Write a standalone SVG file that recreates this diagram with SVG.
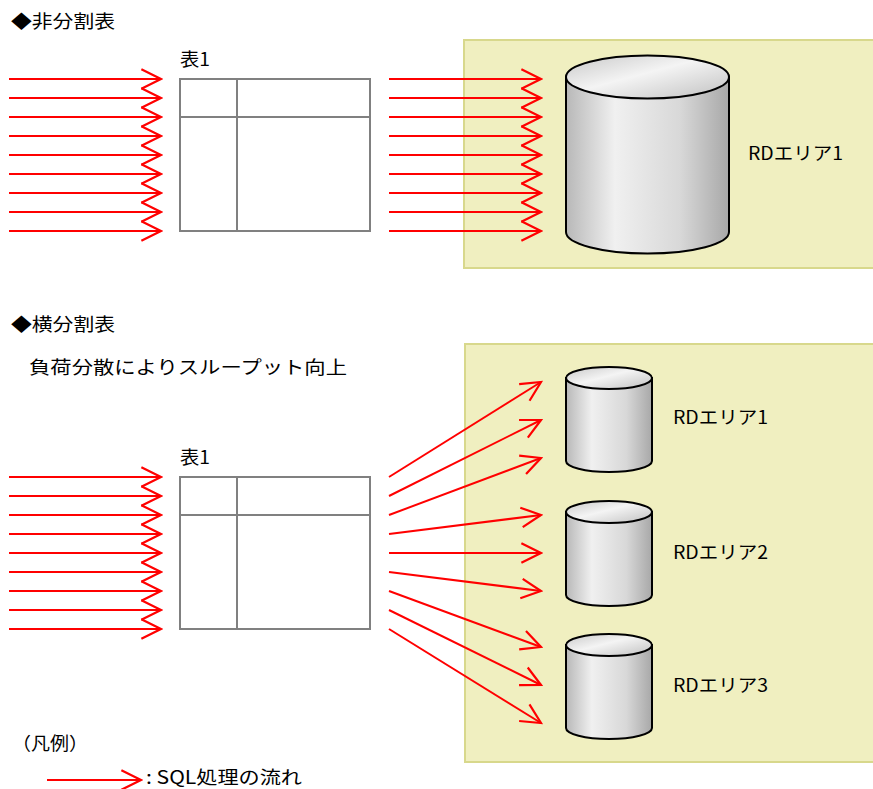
<svg xmlns="http://www.w3.org/2000/svg" width="873" height="789" viewBox="0 0 873 789">
<style>
.t{font-family:"Noto Sans CJK JP","Liberation Sans",sans-serif;font-size:18px;fill:#000}
.area{fill:#f0efc0;stroke:#d8d88c;stroke-width:2}
.tbl{fill:#fff;stroke:#808080;stroke-width:2}
.grid{stroke:#808080;stroke-width:2;fill:none}
.arr{stroke:#ff0000;stroke-width:2;fill:none;marker-end:url(#ah)}
.cylb{fill:url(#gBody);stroke:#000;stroke-width:2}
.cylt{fill:url(#gTop);stroke:#000;stroke-width:2}
</style>
<defs>
<marker id="ah" markerUnits="userSpaceOnUse" markerWidth="24" markerHeight="24" viewBox="-20 -11 22 22" refX="0" refY="0" orient="auto">
<path d="M-18,-9 L0,0 L-18,9" fill="none" stroke="#ff0000" stroke-width="2"/>
</marker>
<linearGradient id="gBody" x1="0" y1="0" x2="1" y2="0">
<stop offset="0" stop-color="#b8b8b8"/>
<stop offset="0.3" stop-color="#f0f0f0"/>
<stop offset="0.7" stop-color="#d8d8d8"/>
<stop offset="1" stop-color="#a8a8a8"/>
</linearGradient>
<linearGradient id="gTop" x1="0" y1="0" x2="1" y2="1">
<stop offset="0" stop-color="#c8c8c8"/>
<stop offset="0.45" stop-color="#f4f4f4"/>
<stop offset="1" stop-color="#c0c0c0"/>
</linearGradient>
</defs>

<g id="title1"><text class="t" x="11" y="28" textLength="104" lengthAdjust="spacingAndGlyphs">◆非分割表</text></g>
<g id="title2"><text class="t" x="11" y="331" textLength="104" lengthAdjust="spacingAndGlyphs">◆横分割表</text></g>
<g id="note"><text class="t" x="29" y="374" textLength="318" lengthAdjust="spacingAndGlyphs">負荷分散によりスループット向上</text></g>

<g id="area1">
<rect class="area" x="464" y="40" width="420" height="228"/>
</g>
<g id="area2">
<rect class="area" x="465" y="344" width="420" height="418"/>
</g>

<g id="table1">
<text class="t" x="180" y="66" textLength="30" lengthAdjust="spacingAndGlyphs">表1</text>
<rect class="tbl" x="180" y="79" width="190" height="152"/>
<line class="grid" x1="180" y1="117" x2="370" y2="117"/>
<line class="grid" x1="237" y1="79" x2="237" y2="231"/>
</g>
<g id="table2">
<text class="t" x="180" y="464" textLength="30" lengthAdjust="spacingAndGlyphs">表1</text>
<rect class="tbl" x="180" y="477" width="190" height="152"/>
<line class="grid" x1="180" y1="515" x2="370" y2="515"/>
<line class="grid" x1="237" y1="477" x2="237" y2="629"/>
</g>

<g id="rd-top">
<path class="cylb" d="M566,77 L566,232 A81.5,21.5 0 0 0 729,232 L729,77 Z"/>
<ellipse class="cylt" cx="647.5" cy="77" rx="81.5" ry="21.5"/>
<text class="t" x="748" y="160" textLength="95" lengthAdjust="spacingAndGlyphs">RDエリア1</text>
</g>
<g id="rd1">
<path class="cylb" d="M566,378 L566,461 A43,11 0 0 0 652,461 L652,378 Z"/>
<ellipse class="cylt" cx="609" cy="378" rx="43" ry="11"/>
<text class="t" x="673" y="424" textLength="95" lengthAdjust="spacingAndGlyphs">RDエリア1</text>
</g>
<g id="rd2">
<path class="cylb" d="M566,512 L566,595 A43,11 0 0 0 652,595 L652,512 Z"/>
<ellipse class="cylt" cx="609" cy="512" rx="43" ry="11"/>
<text class="t" x="673" y="559" textLength="95" lengthAdjust="spacingAndGlyphs">RDエリア2</text>
</g>
<g id="rd3">
<path class="cylb" d="M566,645 L566,728 A43,11 0 0 0 652,728 L652,645 Z"/>
<ellipse class="cylt" cx="609" cy="645" rx="43" ry="11"/>
<text class="t" x="673" y="692" textLength="95" lengthAdjust="spacingAndGlyphs">RDエリア3</text>
</g>

<g id="connectors">
<line class="arr" x1="9" y1="79" x2="161" y2="79"/>
<line class="arr" x1="9" y1="98" x2="161" y2="98"/>
<line class="arr" x1="9" y1="117" x2="161" y2="117"/>
<line class="arr" x1="9" y1="136" x2="161" y2="136"/>
<line class="arr" x1="9" y1="155" x2="161" y2="155"/>
<line class="arr" x1="9" y1="174" x2="161" y2="174"/>
<line class="arr" x1="9" y1="193" x2="161" y2="193"/>
<line class="arr" x1="9" y1="212" x2="161" y2="212"/>
<line class="arr" x1="9" y1="231" x2="161" y2="231"/>

<line class="arr" x1="389" y1="79" x2="541" y2="79"/>
<line class="arr" x1="389" y1="98" x2="541" y2="98"/>
<line class="arr" x1="389" y1="117" x2="541" y2="117"/>
<line class="arr" x1="389" y1="136" x2="541" y2="136"/>
<line class="arr" x1="389" y1="155" x2="541" y2="155"/>
<line class="arr" x1="389" y1="174" x2="541" y2="174"/>
<line class="arr" x1="389" y1="193" x2="541" y2="193"/>
<line class="arr" x1="389" y1="212" x2="541" y2="212"/>
<line class="arr" x1="389" y1="231" x2="541" y2="231"/>

<line class="arr" x1="9" y1="477" x2="161" y2="477"/>
<line class="arr" x1="9" y1="496" x2="161" y2="496"/>
<line class="arr" x1="9" y1="515" x2="161" y2="515"/>
<line class="arr" x1="9" y1="534" x2="161" y2="534"/>
<line class="arr" x1="9" y1="553" x2="161" y2="553"/>
<line class="arr" x1="9" y1="572" x2="161" y2="572"/>
<line class="arr" x1="9" y1="591" x2="161" y2="591"/>
<line class="arr" x1="9" y1="610" x2="161" y2="610"/>
<line class="arr" x1="9" y1="629" x2="161" y2="629"/>

<line class="arr" x1="389" y1="477" x2="541" y2="382"/>
<line class="arr" x1="389" y1="496" x2="541" y2="420"/>
<line class="arr" x1="389" y1="515" x2="541" y2="458"/>
<line class="arr" x1="389" y1="534" x2="541" y2="515"/>
<line class="arr" x1="389" y1="553" x2="541" y2="553"/>
<line class="arr" x1="389" y1="572" x2="541" y2="591"/>
<line class="arr" x1="389" y1="591" x2="541" y2="647"/>
<line class="arr" x1="389" y1="610" x2="541" y2="685"/>
<line class="arr" x1="389" y1="629" x2="541" y2="723"/>
</g>

<g id="legend">
<text class="t" x="12" y="750" textLength="76" lengthAdjust="spacingAndGlyphs">（凡例）</text>
<line class="arr" x1="47" y1="780" x2="141" y2="780"/>
<text class="t" x="146" y="784" font-size="17" textLength="156" lengthAdjust="spacingAndGlyphs">: SQL処理の流れ</text>
</g>
</svg>
